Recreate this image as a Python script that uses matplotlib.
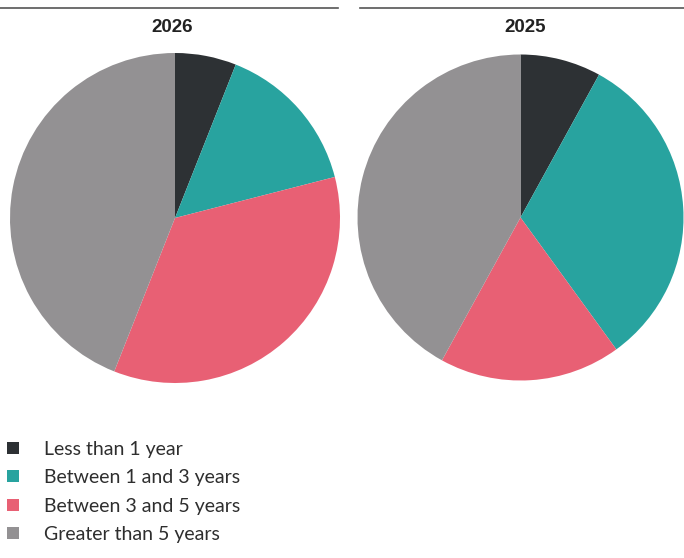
import matplotlib.pyplot as plt
from matplotlib.lines import Line2D

# share of each maturity bucket, per year (percent)
categories = ["Less than 1 year", "Between 1 and 3 years",
              "Between 3 and 5 years", "Greater than 5 years"]
share_2026 = [6, 15, 35, 44]
share_2025 = [8, 32, 18, 42]
years = ["2026", "2025"]

colors = ["#2d3134", "#28a39f", "#e86074", "#939193"]

W, H = 684, 558
fig = plt.figure(figsize=(W / 100, H / 100), dpi=100)


def px_axes(x, y, w, h):
    # axes placed in pixel coords measured from the top-left corner
    return fig.add_axes([x / W, 1 - (y + h) / H, w / W, h / H])


def draw_pie(ax, values):
    wedges, _ = ax.pie(values, colors=colors, startangle=90,
                       counterclock=False, radius=1.0,
                       wedgeprops=dict(linewidth=0))
    ax.set_xlim(-1, 1)
    ax.set_ylim(-1, 1)
    ax.set_aspect("equal")
    return wedges


ax1 = px_axes(10, 53, 330, 330)
ax2 = px_axes(357.5, 54.5, 326, 326)
draw_pie(ax1, share_2026)
draw_pie(ax2, share_2025)

# rules above each panel and the year headings
for (x0, x1), xc, year in [((0, 338), 172, years[0]), ((360, 684), 525, years[1])]:
    fig.add_artist(Line2D([x0 / W, x1 / W], [1 - 8 / H, 1 - 8 / H],
                          color="#555555", linewidth=1.2))
    fig.text(xc / W, 1 - 28 / H, year, ha="center", va="center",
             fontsize=13.5, fontweight="bold", color="#222222",
             family="Liberation Sans")

handles = [Line2D([], [], marker="s", linestyle="none", markersize=8.6,
                  markerfacecolor=c, markeredgewidth=0) for c in colors]
fig.legend(handles, categories, loc="upper left",
           bbox_to_anchor=(3.3 / W, 1 - 441 / H), frameon=False,
           prop=dict(family="Lato", size=14), labelcolor="#2e2e2e",
           borderpad=0, borderaxespad=0, handlelength=1.0,
           handletextpad=1.1, labelspacing=0.58)

fig.savefig("out.png", dpi=100)
